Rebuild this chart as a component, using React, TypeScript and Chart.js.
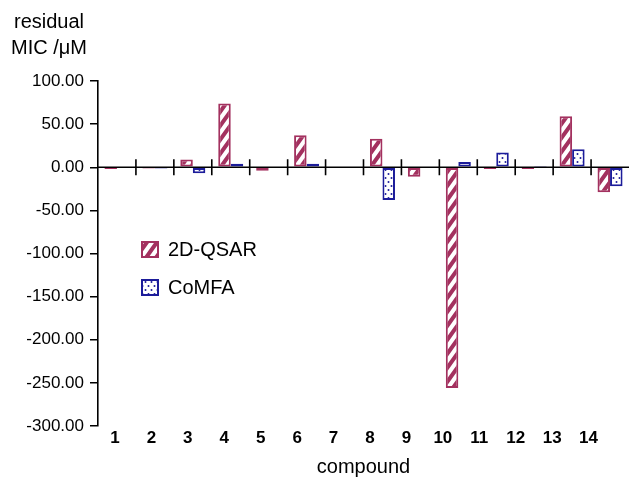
import React, { useEffect, useRef } from 'react';
import { Chart, registerables } from 'chart.js';

Chart.register(...registerables);

const compounds = ['1', '2', '3', '4', '5', '6', '7', '8', '9', '10', '11', '12', '13', '14'];
const qsarResiduals = [-2, -1.5, 9, 74, -4, 37, null, 33, -11, -256, -2, -2, 59, -29];
const comfaResiduals = [null, -1.5, -7, 4, null, 4, null, -38, null, 6, 17, 1.5, 21, -22];
const yTicks = [100, 50, 0, -50, -100, -150, -200, -250, -300];
const yTitleLines = ['residual', 'MIC /\u03bcM'];
const seriesNames = ['2D-QSAR', 'CoMFA'];
const xTitle = 'compound';

const RED = '#a3315f';
const BLUE = '#1c1c9a';
const FONT = "'Liberation Sans', Arial, Helvetica, sans-serif";

function makeHatch(color: string): CanvasPattern | string {
  const w = 10;
  const h = 14;
  const c = document.createElement('canvas');
  c.width = w;
  c.height = h;
  const g = c.getContext('2d');
  if (!g) return color;
  g.fillStyle = '#ffffff';
  g.fillRect(0, 0, w, h);
  g.strokeStyle = color;
  g.lineWidth = 4;
  g.beginPath();
  for (const off of [-w, 0, w]) {
    g.moveTo(off - w * 0.5, h * 1.5);
    g.lineTo(off + w * 1.5, -h * 0.5);
  }
  g.stroke();
  return g.createPattern(c, 'repeat') || color;
}

function makeDots(color: string): CanvasPattern | string {
  const c = document.createElement('canvas');
  c.width = 6;
  c.height = 8;
  const g = c.getContext('2d');
  if (!g) return color;
  g.fillStyle = '#ffffff';
  g.fillRect(0, 0, 6, 8);
  g.fillStyle = color;
  g.beginPath(); g.arc(1.5, 2, 1, 0, Math.PI * 2); g.fill();
  g.beginPath(); g.arc(4.5, 6, 1, 0, Math.PI * 2); g.fill();
  return g.createPattern(c, 'repeat') || color;
}

export default function App() {
  const ref = useRef<HTMLCanvasElement | null>(null);

  useEffect(() => {
    document.body.style.margin = '0';
    const canvas = ref.current;
    if (!canvas) return;
    const hatch = makeHatch(RED);
    const dots = makeDots(BLUE);

    const decor = {
      id: 'decor',
      afterDatasetsDraw(chart: any) {
        const ctx = chart.ctx;
        const xs = chart.scales.x;
        const ys = chart.scales.y;
        const area = chart.chartArea;
        const y0 = ys.getPixelForValue(0);
        ctx.save();
        ctx.strokeStyle = '#000';
        ctx.lineWidth = 1.6;
        ctx.beginPath();
        ctx.moveTo(area.left, y0);
        ctx.lineTo(area.right, y0);
        for (let i = 1; i < compounds.length; i++) {
          const bx = (xs.getPixelForValue(i - 1) + xs.getPixelForValue(i)) / 2;
          ctx.moveTo(bx, y0 - 8);
          ctx.lineTo(bx, y0 + 8);
        }
        ctx.stroke();

        // y title
        ctx.fillStyle = '#000';
        ctx.font = `20px ${FONT}`;
        ctx.textAlign = 'center';
        ctx.textBaseline = 'middle';
        ctx.fillText(yTitleLines[0], 49, 22);
        ctx.fillText(yTitleLines[1], 49, 48);

        // legend
        const fills = [hatch, dots];
        const strokes = [RED, BLUE];
        const rows = [250, 288];
        ctx.textAlign = 'left';
        for (let i = 0; i < seriesNames.length; i++) {
          const ty = rows[i];
          ctx.fillStyle = fills[i] as any;
          ctx.fillRect(142, ty - 8, 16, 15);
          ctx.strokeStyle = strokes[i];
          ctx.lineWidth = 2;
          ctx.strokeRect(142, ty - 8, 16, 15);
          ctx.fillStyle = '#000';
          ctx.fillText(seriesNames[i], 168, ty);
        }
        ctx.restore();
      },
    };

    const chart = new Chart(canvas, {
      type: 'bar',
      data: {
        labels: compounds,
        datasets: [
          {
            label: seriesNames[0],
            data: qsarResiduals as any,
            backgroundColor: hatch as any,
            borderColor: RED,
            borderWidth: 2,
            borderSkipped: false,
          },
          {
            label: seriesNames[1],
            data: comfaResiduals as any,
            backgroundColor: dots as any,
            borderColor: BLUE,
            borderWidth: 2,
            borderSkipped: false,
          },
        ],
      },
      options: {
        responsive: false,
        animation: false,
        layout: { padding: { top: 81, right: 0, left: 0, bottom: 0 } },
        datasets: { bar: { categoryPercentage: 0.66, barPercentage: 1 } },
        plugins: {
          legend: { display: false },
          tooltip: { enabled: false },
          title: { display: false },
        },
        scales: {
          x: {
            type: 'category',
            offset: true,
            display: false,
          },
          xl: {
            type: 'linear',
            position: 'bottom',
            offset: false,
            grace: 0,
            bounds: 'ticks',
            min: 0.534,
            max: 15.11,
            afterBuildTicks: (s: any) => { s.ticks = compounds.map((_, i) => ({ value: i + 1 })); },
            grid: { display: false, drawTicks: false },
            border: { display: false },
            ticks: {
              color: '#000',
              font: { family: FONT, size: 17, weight: 'bold' },
              padding: 2,
              maxRotation: 0,
              autoSkip: false,
              callback: (v: any) => compounds[Math.round(Number(v)) - 1] ?? '',
            },
            title: {
              display: true,
              text: xTitle,
              color: '#000',
              font: { family: FONT, size: 20 },
              padding: { top: 0, bottom: 0 },
            },
            afterFit: (s: any) => { s.height = 53; },
          },
          y: {
            min: -300,
            max: 100,
            afterBuildTicks: (s: any) => { s.ticks = yTicks.map((v) => ({ value: v })); },
            ticks: {
              color: '#000',
              font: { family: FONT, size: 17 },
              padding: 6,
              callback: (v: any) => Number(v).toFixed(2),
            },
            grid: { drawOnChartArea: false, tickLength: 8, color: '#000', lineWidth: 1.5 },
            border: { color: '#000', width: 1.6 },
            afterFit: (s: any) => { s.width = 98; },
          },
        },
      } as any,
      plugins: [decor],
    });
    return () => chart.destroy();
  }, []);

  return <canvas ref={ref} width={629} height={479} style={{ display: 'block' }} />;
}
